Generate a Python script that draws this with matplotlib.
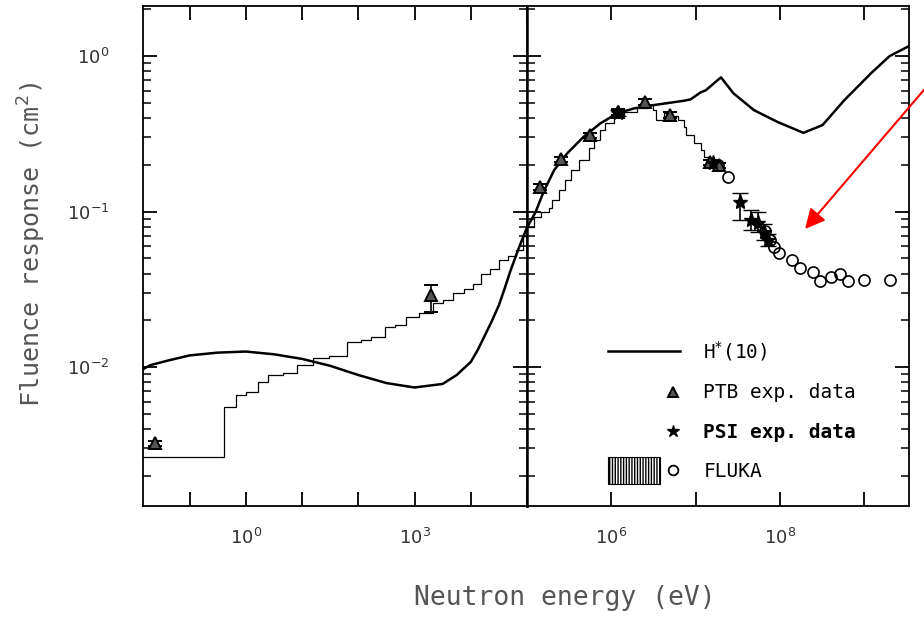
import numpy as np
import matplotlib
matplotlib.use('Agg')
import matplotlib.pyplot as plt
from matplotlib.lines import Line2D
from matplotlib.patches import Rectangle
from matplotlib.legend_handler import HandlerBase
from matplotlib.ticker import LogLocator, NullLocator, NullFormatter

# H*(10) conversion coefficient curve, low energy part (eV, cm^2)
hstar_lo_E = [0.0148, 0.02, 0.04, 0.1, 0.316, 1.0, 3.16, 10, 31.6, 100, 316, 1e3,
              3.16e3, 5.6e3, 1e4, 1.33e4, 1.78e4, 2.37e4, 3.16e4, 4e4, 5e4, 7.1e4, 1e5]
hstar_lo_R = [0.0097, 0.0103, 0.0110, 0.0119, 0.0124, 0.0126, 0.0121, 0.0113, 0.0102,
              0.0089, 0.0079, 0.0074, 0.0078, 0.0089, 0.0108, 0.0129, 0.0160, 0.0198,
              0.0250, 0.0320, 0.0410, 0.0580, 0.0790]
# high energy part
hstar_hi_E = [1e5, 1.26e5, 1.58e5, 2.1e5, 3.0e5, 4.7e5, 7.4e5, 1.17e6, 1.86e6, 3.16e6,
              7.2e6, 8.7e6, 1.15e7, 1.32e7, 2.0e7, 2.8e7, 4.9e7, 9.3e7, 1.9e8, 3.2e8,
              5.8e8, 1.2e9, 2.0e9, 3.4e9]
hstar_hi_R = [0.079, 0.099, 0.135, 0.185, 0.237, 0.303, 0.369, 0.428, 0.461, 0.484,
              0.516, 0.527, 0.585, 0.603, 0.73, 0.578, 0.45, 0.378, 0.321, 0.36,
              0.52, 0.774, 1.0, 1.16]

# FLUKA histogram response
fluka_lo_edges = [0.01, 0.41, 0.68, 1.0, 1.65, 2.5, 4.5, 8.0, 15.7, 30, 62, 110, 170,
                  295, 450, 715, 1200, 2120, 3200, 4790, 7600, 1.1e4, 1.53e4, 2.2e4,
                  3.24e4, 4.6e4, 6.5e4, 8.5e4, 1.0e5]
fluka_lo_vals = [0.00265, 0.00556, 0.0066, 0.0069, 0.0080, 0.0089, 0.0092, 0.0103,
                 0.0114, 0.0118, 0.0146, 0.0150, 0.0157, 0.0182, 0.0188, 0.0210,
                 0.0224, 0.0257, 0.0270, 0.0298, 0.0318, 0.0340, 0.0400, 0.0430,
                 0.0488, 0.0520, 0.0565, 0.0700]
fluka_hi_edges = [1e5, 1.2e5, 1.45e5, 1.82e5, 2.0e5, 2.37e5, 2.8e5, 3.3e5, 4.1e5, 5.4e5,
                  6.3e5, 7.4e5, 8.5e5, 1.07e6, 1.41e6, 2.04e6, 2.7e6, 3.16e6, 3.4e6,
                  4.2e6, 5.2e6, 6.2e6, 7.2e6, 7.6e6, 9.5e6, 1.15e7, 1.26e7, 1.5e7, 2.0e7]
fluka_hi_vals = [0.080, 0.092, 0.100, 0.105, 0.118, 0.137, 0.160, 0.185, 0.214, 0.256,
                 0.29, 0.334, 0.369, 0.41, 0.438, 0.463, 0.484, 0.45, 0.388, 0.428,
                 0.41, 0.388, 0.351, 0.31, 0.275, 0.248, 0.224, 0.21]
# FLUKA points
fluka_pts_E = [1.85e7, 2.45e7, 6.6e7, 7.6e7, 8.5e7, 9.8e7, 1.38e8, 1.74e8, 2.45e8,
               3.0e8, 4.0e8, 5.1e8, 6.5e8, 1.0e9, 2.0e9]
fluka_pts_R = [0.20, 0.168, 0.075, 0.066, 0.059, 0.054, 0.049, 0.0436, 0.0407,
               0.0359, 0.038, 0.040, 0.036, 0.0363, 0.0363]

# PTB measurements
ptb_lo_E = [0.0245, 1.95e3]
ptb_lo_R = [0.00323, 0.029]
ptb_lo_err_dn = [0.0001, 0.0063]
ptb_lo_err_up = [0.0001, 0.0047]
ptb_hi_E = [1.44e5, 2.5e5, 5.65e5, 1.2e6, 2.5e6, 5.0e6, 1.48e7, 1.9e7]
ptb_hi_R = [0.144, 0.217, 0.31, 0.438, 0.508, 0.418, 0.208, 0.199]

# PSI measurements
psi_E = [1.2e6, 1.6e7, 3.4e7, 4.5e7, 5.5e7, 6.5e7, 7.2e7]
psi_R = [0.43, 0.205, 0.116, 0.088, 0.085, 0.074, 0.066]
psi_err_dn = [0.02, 0.01, 0.028, 0.012, 0.011, 0.008, 0.006]
psi_err_up = [0.02, 0.01, 0.015, 0.014, 0.015, 0.009, 0.006]

lo_ticks = [1e-1, 1e0, 1e1, 1e2, 1e3, 1e4, 1e5]
lo_labels = ['', '$10^{0}$', '', '', '$10^{3}$', '', '']
hi_ticks = [1e5, 1e6, 1e7, 1e8, 1e9]
hi_labels = ['', '$10^{6}$', '', '$10^{8}$', '']

W, H = 924, 620
fig = plt.figure(figsize=(W / 100, H / 100), dpi=100)
ax1 = fig.add_axes([143 / W, 1 - 506 / H, 384 / W, 500 / H])
ax2 = fig.add_axes([527 / W, 1 - 506 / H, 382 / W, 500 / H])

ylim = (1.28e-3, 2.1)
ax1.set_xlim(0.0148, 1e5)
ax2.set_xlim(1e5, 3.4e9)

for ax in (ax1, ax2):
    ax.set_xscale('log')
    ax.set_yscale('log')
    ax.set_ylim(*ylim)
    ax.xaxis.set_minor_locator(NullLocator())
    ax.yaxis.set_major_locator(LogLocator(base=10, numticks=10))
    ax.yaxis.set_minor_locator(LogLocator(base=10, subs=np.arange(2, 10), numticks=20))
    ax.yaxis.set_minor_formatter(NullFormatter())
    ax.tick_params(which='both', direction='in', top=True, right=True, left=True,
                   bottom=True, colors='black', labelcolor='#333333', labelsize=13)
    ax.tick_params(which='major', length=10, width=1.3)
    ax.tick_params(which='minor', length=6, width=1.1)
    ax.tick_params(axis='x', which='major', pad=16)
    for s in ax.spines.values():
        s.set_linewidth(1.3)

ax1.tick_params(axis='y', pad=24)
ax2.tick_params(axis='y', labelleft=False)
ax1.set_xticks(lo_ticks)
ax1.set_xticklabels(lo_labels)
ax2.set_xticks(hi_ticks)
ax2.set_xticklabels(hi_labels)
ax1.spines['right'].set_linewidth(1.8)
ax2.spines['left'].set_linewidth(1.8)

# curves
ax1.plot(hstar_lo_E, hstar_lo_R, color='black', lw=1.8)
ax2.plot(hstar_hi_E, hstar_hi_R, color='black', lw=1.8)
ax1.stairs(fluka_lo_vals, fluka_lo_edges, baseline=None, color='black', lw=0.9)
ax2.stairs(fluka_hi_vals, fluka_hi_edges, baseline=None, color='black', lw=0.9)

ax2.plot(fluka_pts_E, fluka_pts_R, 'o', ms=8, mfc='none', mec='black', mew=1.2)

ax1.errorbar(ptb_lo_E, ptb_lo_R, yerr=[ptb_lo_err_dn, ptb_lo_err_up], fmt='^', ms=8,
             mfc='#555555', mec='black', mew=1.4, ecolor='black', elinewidth=1.2,
             capsize=5)
ptb_hi_err = [r * 0.04 for r in ptb_hi_R]
ax2.errorbar(ptb_hi_E, ptb_hi_R, yerr=ptb_hi_err, fmt='^', ms=8, mfc='#555555',
             mec='black', mew=1.4, ecolor='black', elinewidth=1.2, capsize=5)
ax2.errorbar(psi_E, psi_R, yerr=[psi_err_dn, psi_err_up], fmt='*', ms=11, mfc='black',
             mec='black', ecolor='black', elinewidth=1.2, capsize=6)


class RightMarkerHandler(HandlerBase):
    def __init__(self, with_box=False):
        super().__init__()
        self.with_box = with_box

    def create_artists(self, legend, orig_handle, xdescent, ydescent, width, height,
                       fontsize, trans):
        x0, y0 = -xdescent, -ydescent
        arts = []
        if self.with_box:
            rect = Rectangle((x0, y0 + height / 2 - 1.0 * height), 0.72 * width,
                             2.0 * height, facecolor='white', edgecolor='black',
                             hatch='||||||', lw=0.8)
            rect.set_transform(trans)
            arts.append(rect)
        mk = Line2D([x0 + 0.9 * width], [y0 + height / 2], linestyle='none',
                    marker=orig_handle.get_marker(),
                    markersize=orig_handle.get_markersize(),
                    markerfacecolor=orig_handle.get_markerfacecolor(),
                    markeredgecolor=orig_handle.get_markeredgecolor(),
                    markeredgewidth=orig_handle.get_markeredgewidth())
        mk.set_transform(trans)
        arts.append(mk)
        return arts


h_line = Line2D([], [], color='black', lw=1.8)
h_ptb = Line2D([], [], marker='^', ms=7, mfc='#555555', mec='black', mew=1.4, ls='none')
h_psi = Line2D([], [], marker='*', ms=9, mfc='black', mec='black', ls='none')
h_fluka = Line2D([], [], marker='o', ms=7, mfc='none', mec='black', mew=1.3, ls='none')

leg = ax2.legend([h_line, h_ptb, h_psi, h_fluka],
                 ['H$^{*}$(10)', 'PTB exp. data', 'PSI exp. data', 'FLUKA'],
                 handler_map={h_ptb: RightMarkerHandler(), h_psi: RightMarkerHandler(),
                              h_fluka: RightMarkerHandler(with_box=True)},
                 loc='upper left', bbox_to_anchor=(0.212, 0.334), frameon=False,
                 borderpad=0, borderaxespad=0, handlelength=3.7, handletextpad=1.2,
                 labelspacing=1.05, prop={'family': 'DejaVu Sans Mono', 'size': 14})
leg.get_texts()[2].set_fontweight('bold')

# red arrow
ax2.annotate('', xy=(0.728, 0.554), xycoords='axes fraction',
             xytext=(1.068, 0.858), textcoords='axes fraction',
             arrowprops=dict(arrowstyle='-|>', color='red', lw=1.5,
                             mutation_scale=30, shrinkA=0, shrinkB=0),
             annotation_clip=False)

fig.text(565 / W, 1 - 598 / H, 'Neutron energy (eV)', ha='center', va='center',
         family='DejaVu Sans Mono', fontsize=19, color='#555555')
fig.text(32 / W, 1 - 245 / H, 'Fluence response (cm$^{2}$)', ha='center', va='center',
         rotation=90, family='DejaVu Sans Mono', fontsize=18, color='#555555')

fig.savefig('out.png', dpi=100)
